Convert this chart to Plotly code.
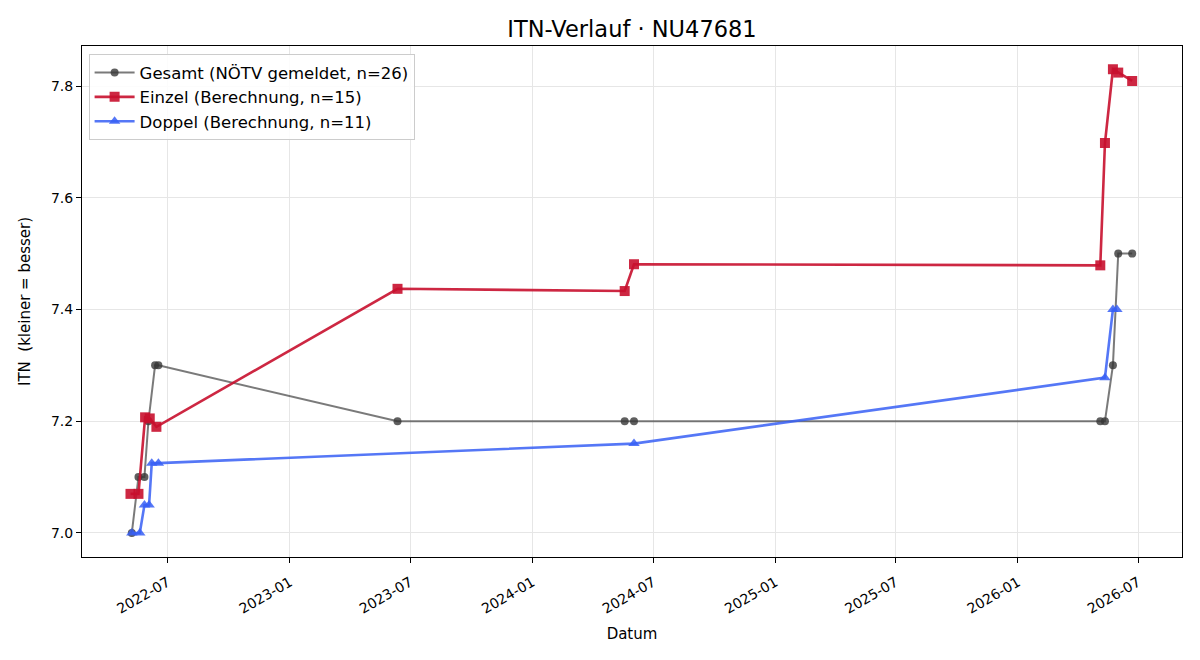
import plotly.graph_objects as go

# Gesamt (NÖTV gemeldet)
gesamt_dates = ["2022-05-08", "2022-05-18", "2022-05-27", "2022-06-02", "2022-06-12", "2022-06-17",
                "2023-06-12", "2024-05-19", "2024-06-02", "2026-05-05", "2026-05-12", "2026-05-24",
                "2026-06-01", "2026-06-22"]
gesamt_vals = [7.0, 7.1, 7.1, 7.2, 7.3, 7.3, 7.2, 7.2, 7.2, 7.2, 7.2, 7.3, 7.5, 7.5]

# Einzel (Berechnung)
einzel_dates = ["2022-05-06", "2022-05-18", "2022-05-28", "2022-06-04", "2022-06-14",
                "2023-06-12", "2024-05-19", "2024-06-02", "2026-05-05", "2026-05-12",
                "2026-05-24", "2026-06-01", "2026-06-22"]
einzel_vals = [7.07, 7.07, 7.207, 7.205, 7.19, 7.437, 7.433, 7.481, 7.479, 7.698, 7.830, 7.824, 7.809]

# Doppel (Berechnung)
doppel_dates = ["2022-05-08", "2022-05-20", "2022-05-27", "2022-06-03", "2022-06-07", "2022-06-17",
                "2024-06-02", "2026-05-12", "2026-05-24", "2026-05-30"]
doppel_vals = [7.0, 7.0, 7.05, 7.05, 7.125, 7.125, 7.16, 7.278, 7.40, 7.40]

tick_vals = ["2022-07-01", "2023-01-01", "2023-07-01", "2024-01-01", "2024-07-01",
             "2025-01-01", "2025-07-01", "2026-01-01", "2026-07-01"]
tick_text = ["2022-07", "2023-01", "2023-07", "2024-01", "2024-07",
             "2025-01", "2025-07", "2026-01", "2026-07"]
y_ticks = [7.0, 7.2, 7.4, 7.6, 7.8]

fig = go.Figure()
fig.add_trace(go.Scatter(
    x=gesamt_dates, y=gesamt_vals, mode="lines+markers",
    name="Gesamt (NÖTV gemeldet, n=26)",
    line=dict(color="rgba(70,70,70,0.72)", width=2),
    marker=dict(symbol="circle", size=8, color="rgba(55,55,55,0.8)"),
))
fig.add_trace(go.Scatter(
    x=einzel_dates, y=einzel_vals, mode="lines+markers",
    name="Einzel (Berechnung, n=15)",
    line=dict(color="rgba(200,16,46,0.9)", width=2.6),
    marker=dict(symbol="square", size=10, color="rgba(200,16,46,0.9)"),
))
fig.add_trace(go.Scatter(
    x=doppel_dates, y=doppel_vals, mode="lines+markers",
    name="Doppel (Berechnung, n=11)",
    line=dict(color="rgba(55,95,245,0.85)", width=2.6),
    marker=dict(symbol="triangle-up", size=10, color="rgba(55,95,245,0.85)"),
))

axis_common = dict(
    showline=True, linecolor="black", linewidth=1, mirror=True,
    ticks="outside", ticklen=5, tickcolor="black",
    showgrid=True, gridcolor="#e6e6e6", gridwidth=1, zeroline=False,
    tickfont=dict(size=14, color="black"),
)

fig.update_layout(
    width=1200, height=660,
    margin=dict(l=82, r=18, t=46, b=103),
    paper_bgcolor="white", plot_bgcolor="white",
    font=dict(family="DejaVu Sans", color="black"),
    title=dict(text="ITN-Verlauf · NU47681", xref="paper", x=0.5, xanchor="center",
               y=0.956, yanchor="middle",
               font=dict(size=22.5, color="black")),
    xaxis=dict(
        **axis_common,
        type="date",
        range=["2022-02-22", "2026-09-05"],
        tickvals=tick_vals, ticktext=tick_text, tickangle=-30,
        ticklabelstandoff=6,
        title=dict(text="Datum", font=dict(size=15), standoff=12),
    ),
    yaxis=dict(
        **axis_common,
        range=[6.957, 7.8716],
        tickvals=y_ticks, ticktext=[f"{v:.1f}" for v in y_ticks],
        title=dict(text="ITN  (kleiner = besser)", font=dict(size=15), standoff=16),
    ),
    legend=dict(
        x=0.006, y=0.984, xanchor="left", yanchor="top",
        bgcolor="rgba(255,255,255,0.85)", bordercolor="#cccccc", borderwidth=1,
        font=dict(size=16.5, color="black"), tracegroupgap=4, itemwidth=40,
    ),
)

fig.write_html("out.html")
